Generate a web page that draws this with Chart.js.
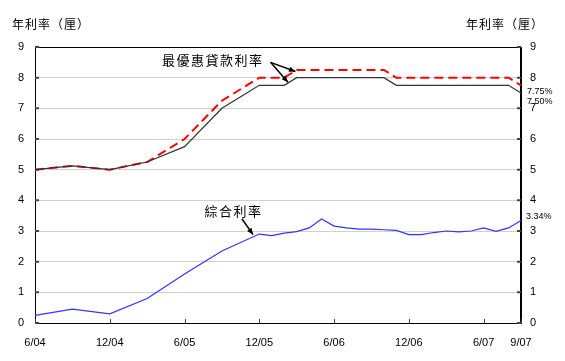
<!DOCTYPE html>
<html>
<head>
<meta charset="utf-8">
<script src="https://cdn.jsdelivr.net/npm/chart.js@4/dist/chart.umd.min.js"></script>
<style>
  body { margin: 0; background: #fff; }
  #wrap { width: 565px; height: 361px; }
</style>
</head>
<body>
<div id="wrap"><canvas id="myChart" width="565" height="361"></canvas></div>
<script>
// monthly categories, 6/04 .. 9/07
const months = ['6/04','7/04','8/04','9/04','10/04','11/04','12/04','1/05','2/05','3/05','4/05','5/05',
  '6/05','7/05','8/05','9/05','10/05','11/05','12/05','1/06','2/06','3/06','4/06','5/06',
  '6/06','7/06','8/06','9/06','10/06','11/06','12/06','1/07','2/07','3/07','4/07','5/07',
  '6/07','7/07','8/07','9/07'];
const shownLabels = ['6/04','12/04','6/05','12/05','6/06','12/06','6/07','9/07'];
const yTicks = [0,1,2,3,4,5,6,7,8,9];

// best lending rate, upper and lower end (%), quarterly until 12/05 then monthly
const primeHigh = [5.0,null,null,5.125,null,null,5.0,null,null,5.25,null,null,
  6.0,null,null,7.25,null,null,8.0,8.0,8.0,8.25,8.25,8.25,
  8.25,8.25,8.25,8.25,8.25,8.0,8.0,8.0,8.0,8.0,8.0,8.0,
  8.0,8.0,8.0,7.75];
const primeLow = [5.0,null,null,5.125,null,null,5.0,null,null,5.25,null,null,
  5.75,null,null,7.0,null,null,7.75,7.75,7.75,8.0,8.0,8.0,
  8.0,8.0,8.0,8.0,8.0,7.75,7.75,7.75,7.75,7.75,7.75,7.75,
  7.75,7.75,7.75,7.5];
// composite interest rate (%)
const composite = [0.25,null,null,0.45,null,null,0.3,null,null,0.8,null,null,
  1.6,null,null,2.35,null,null,2.9,2.85,2.93,2.98,3.1,3.39,
  3.16,3.1,3.06,3.06,3.04,3.02,2.88,2.88,2.95,3.0,2.97,3.0,
  3.1,2.99,3.1,3.34];
const endLabels = ['7.75%','7.50%','3.34%'];

const cjk = '"Noto Sans CJK TC", "Noto Sans CJK SC", sans-serif';

function arrow(ctx, x1, y1, x2, y2) {
  const a = Math.atan2(y2 - y1, x2 - x1);
  ctx.beginPath();
  ctx.moveTo(x1, y1);
  ctx.lineTo(x2, y2);
  ctx.stroke();
  ctx.beginPath();
  ctx.moveTo(x2, y2);
  ctx.lineTo(x2 - 7 * Math.cos(a - 0.4), y2 - 7 * Math.sin(a - 0.4));
  ctx.lineTo(x2 - 7 * Math.cos(a + 0.4), y2 - 7 * Math.sin(a + 0.4));
  ctx.closePath();
  ctx.fill();
}

const decor = {
  id: 'decor',
  beforeDatasetsDraw(chart) {
    const ctx = chart.ctx, a = chart.chartArea;
    const x = chart.scales.x, y = chart.scales.y;
    ctx.save();
    ctx.strokeStyle = '#000';
    ctx.lineWidth = 1;
    ctx.strokeRect(a.left + 0.5, a.top + 0.5, a.right - a.left - 1, a.bottom - a.top);
    ctx.strokeStyle = '#444';
    ctx.lineWidth = 2;
    yTicks.forEach(v => {
      const py = y.getPixelForValue(v);
      ctx.beginPath();
      ctx.moveTo(a.left, py); ctx.lineTo(a.left + 4, py);
      ctx.moveTo(a.right - 4, py); ctx.lineTo(a.right, py);
      ctx.stroke();
    });
    ctx.lineWidth = 1;
    shownLabels.forEach(l => {
      const px = Math.round(x.getPixelForValue(months.indexOf(l))) + 0.5;
      ctx.beginPath();
      ctx.moveTo(px, a.bottom); ctx.lineTo(px, a.bottom - 4);
      ctx.stroke();
    });
    ctx.restore();
  },
  afterDraw(chart) {
    const ctx = chart.ctx;
    const x = chart.scales.x, y = chart.scales.y;
    const P = (m, v) => [x.getPixelForValue(m), y.getPixelForValue(v)];
    ctx.save();
    ctx.fillStyle = '#000';
    ctx.strokeStyle = '#000';
    ctx.textBaseline = 'middle';
    // axis titles
    ctx.font = '12px ' + cjk;
    ctx.letterSpacing = '1px';
    ctx.textAlign = 'left';
    ctx.fillText('年利率（厘）', 12, 24);
    ctx.textAlign = 'right';
    ctx.fillText('年利率（厘）', 544, 24);
    // series annotations
    ctx.font = '13px ' + cjk;
    ctx.letterSpacing = '1.5px';
    ctx.textAlign = 'left';
    let t = P(10.2, 8.57);
    ctx.fillText('最優惠貸款利率', t[0], t[1]);
    t = P(13.6, 3.65);
    ctx.fillText('綜合利率', t[0], t[1]);
    ctx.letterSpacing = '0px';
    ctx.lineWidth = 1.5;
    let s = P(18.9, 8.5);
    let e = P(20.9, 8.2);
    arrow(ctx, s[0], s[1], e[0], e[1]);
    e = P(20.3, 7.85);
    arrow(ctx, s[0], s[1], e[0], e[1]);
    s = P(16.6, 3.4);
    e = P(17.5, 2.88);
    arrow(ctx, s[0], s[1], e[0], e[1]);
    // end values
    ctx.font = '9px "Liberation Sans", Arial, sans-serif';
    ctx.textAlign = 'left';
    const last = months.length - 1;
    ctx.fillText(endLabels[0], x.getPixelForValue(last) + 6, y.getPixelForValue(primeHigh[last]) + 6);
    ctx.fillText(endLabels[1], x.getPixelForValue(last) + 6, y.getPixelForValue(primeLow[last]) + 9);
    ctx.fillText(endLabels[2], x.getPixelForValue(last) + 5, y.getPixelForValue(composite[last]) - 4);
    ctx.restore();
  }
};

const tickFont = { family: '"Liberation Sans", Arial, sans-serif', size: 11 };

new Chart(document.getElementById('myChart'), {
  type: 'line',
  data: {
    labels: months,
    datasets: [{
      data: composite,
      borderColor: '#3333ff',
      borderWidth: 1.2,
      pointRadius: 0,
      spanGaps: true,
      tension: 0
    }, {
      data: primeLow,
      borderColor: '#333333',
      borderWidth: 1.2,
      pointRadius: 0,
      spanGaps: true,
      tension: 0
    }, {
      data: primeHigh,
      borderColor: '#ff0000',
      borderWidth: 2,
      borderDash: [9, 5],
      pointRadius: 0,
      spanGaps: true,
      tension: 0
    }]
  },
  options: {
    responsive: false,
    animation: false,
    layout: { padding: { top: 47, left: 0, right: 0, bottom: 0 } },
    plugins: { legend: { display: false }, tooltip: { enabled: false } },
    scales: {
      x: {
        offset: false,
        grid: { display: false, drawTicks: false },
        border: { display: true, color: '#000' },
        afterFit: s => { s.height = 38; },
        ticks: {
          autoSkip: false,
          maxRotation: 0,
          padding: 13,
          color: '#000',
          font: tickFont,
          callback: function(v) {
            const l = months[v];
            return shownLabels.includes(l) ? l : '';
          }
        }
      },
      y: {
        position: 'left',
        min: 0, max: 9,
        afterFit: s => { s.width = 35; },
        grid: { color: '#d0d0d0', lineWidth: 1, drawTicks: false },
        border: { display: true, color: '#000' },
        ticks: { stepSize: 1, padding: 11, color: '#000', font: tickFont }
      },
      y2: {
        position: 'right',
        min: 0, max: 9,
        afterFit: s => { s.width = 44; },
        grid: { display: false, drawTicks: false },
        border: { display: true, color: '#000' },
        ticks: { stepSize: 1, padding: 9, color: '#000', font: tickFont }
      }
    }
  },
  plugins: [decor]
});
</script>
</body>
</html>
